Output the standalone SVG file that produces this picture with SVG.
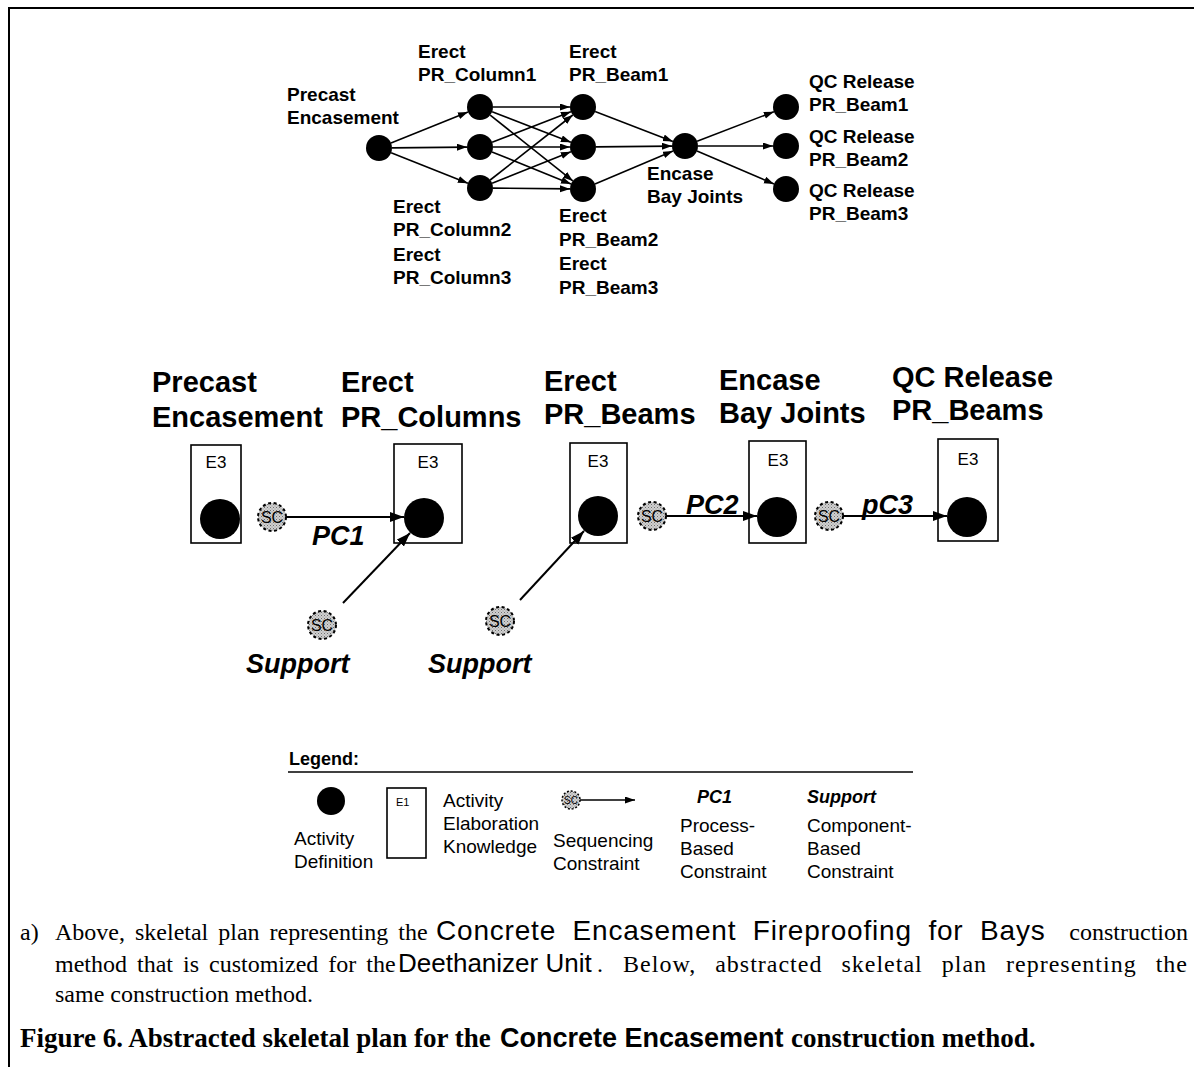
<svg xmlns="http://www.w3.org/2000/svg" width="1194" height="1067" viewBox="0 0 1194 1067">
<defs>
<marker id="ah" markerUnits="userSpaceOnUse" markerWidth="11" markerHeight="8" refX="10" refY="3.5" orient="auto"><path d="M0,0 L10,3.5 L0,7 z" fill="#000"/></marker>
<marker id="ahb" markerUnits="userSpaceOnUse" markerWidth="15" markerHeight="11" refX="14" refY="5" orient="auto"><path d="M0,0 L14,5 L0,10 z" fill="#000"/></marker>
<pattern id="stip" width="3" height="3" patternUnits="userSpaceOnUse"><rect width="3" height="3" fill="#d0d0d0"/><rect x="0" y="0" width="1" height="1" fill="#707070"/><rect x="1.5" y="1.5" width="1" height="1" fill="#909090"/></pattern>
</defs>
<style>
.t{font-family:"Liberation Sans",Arial,sans-serif;font-weight:bold;font-size:19px;fill:#000}
.h{font-family:"Liberation Sans",Arial,sans-serif;font-weight:bold;font-size:29px;fill:#000}
.bi{font-family:"Liberation Sans",Arial,sans-serif;font-weight:bold;font-style:italic;font-size:27px;fill:#000}
.r{font-family:"Liberation Sans",Arial,sans-serif;font-size:19px;fill:#000}
.e3{font-family:"Liberation Sans",Arial,sans-serif;font-size:17px;fill:#000}
.sc{font-family:"Liberation Sans",Arial,sans-serif;font-size:16px;fill:#000;text-anchor:middle}
.cap{font-family:"Liberation Serif","Times New Roman",serif;font-size:24px;fill:#000}
.capa{font-family:"Liberation Sans",Arial,sans-serif;font-size:26px;fill:#000}
.capb{font-family:"Liberation Serif","Times New Roman",serif;font-size:27px;font-weight:bold;fill:#000}
.capab{font-family:"Liberation Sans",Arial,sans-serif;font-size:27px;font-weight:bold;fill:#000}
.e{stroke:#000;stroke-width:1.6;fill:none;marker-end:url(#ah)}
.eb{stroke:#000;stroke-width:2;fill:none;marker-end:url(#ahb)}
.box{fill:#fff;stroke:#000;stroke-width:1.6}
.scc{fill:url(#stip);stroke:#000;stroke-width:2;stroke-dasharray:3 2.6}
</style>
<rect width="1194" height="1067" fill="#fff"/>
<g id="frame" stroke="#000" stroke-width="2" fill="none"><path d="M9,1067 L9,8 L1194,8"/></g>

<g id="top-precast"><circle cx="379" cy="148" r="13"/><text class="t" x="287" y="101">Precast</text><text class="t" x="287" y="124">Encasement</text></g>
<g id="top-col1"><circle cx="480" cy="107" r="13"/><text class="t" x="418" y="58">Erect</text><text class="t" x="418" y="81">PR_Column1</text></g>
<g id="top-col2"><circle cx="480" cy="147" r="13"/><text class="t" x="393" y="213">Erect</text><text class="t" x="393" y="236">PR_Column2</text></g>
<g id="top-col3"><circle cx="480" cy="188" r="13"/><text class="t" x="393" y="261">Erect</text><text class="t" x="393" y="284">PR_Column3</text></g>
<g id="top-beam1"><circle cx="583" cy="107" r="13"/><text class="t" x="569" y="58">Erect</text><text class="t" x="569" y="81">PR_Beam1</text></g>
<g id="top-beam2"><circle cx="583" cy="147" r="13"/><text class="t" x="559" y="222">Erect</text><text class="t" x="559" y="246">PR_Beam2</text></g>
<g id="top-beam3"><circle cx="583" cy="189" r="13"/><text class="t" x="559" y="270">Erect</text><text class="t" x="559" y="294">PR_Beam3</text></g>
<g id="top-encase"><circle cx="685" cy="146" r="13"/><text class="t" x="647" y="180">Encase</text><text class="t" x="647" y="203">Bay Joints</text></g>
<g id="top-qc1"><circle cx="786" cy="107" r="13"/><text class="t" x="809" y="88">QC Release</text><text class="t" x="809" y="111">PR_Beam1</text></g>
<g id="top-qc2"><circle cx="786" cy="146" r="13"/><text class="t" x="809" y="143">QC Release</text><text class="t" x="809" y="166">PR_Beam2</text></g>
<g id="top-qc3"><circle cx="786" cy="189" r="13"/><text class="t" x="809" y="197">QC Release</text><text class="t" x="809" y="220">PR_Beam3</text></g>

<g id="mid-precast"><text class="h" x="152" y="392">Precast</text><text class="h" x="152" y="427">Encasement</text><rect class="box" x="191" y="445" width="50" height="98"/><text class="e3" x="216" y="468" text-anchor="middle">E3</text><circle cx="220" cy="519" r="20"/></g>
<g id="mid-columns"><text class="h" x="341" y="392">Erect</text><text class="h" x="341" y="427">PR_Columns</text><rect class="box" x="394" y="444" width="68" height="99"/><text class="e3" x="428" y="468" text-anchor="middle">E3</text><circle cx="424" cy="518" r="20"/></g>
<g id="mid-beams"><text class="h" x="544" y="391">Erect</text><text class="h" x="544" y="424">PR_Beams</text><rect class="box" x="570" y="443" width="57" height="100"/><text class="e3" x="598" y="467" text-anchor="middle">E3</text><circle cx="598" cy="516" r="20"/></g>
<g id="mid-encase"><text class="h" x="719" y="390">Encase</text><text class="h" x="719" y="423">Bay Joints</text><rect class="box" x="749" y="441" width="57" height="102"/><text class="e3" x="778" y="466" text-anchor="middle">E3</text><circle cx="777" cy="517" r="20"/></g>
<g id="mid-qc"><text class="h" x="892" y="387">QC Release</text><text class="h" x="892" y="420">PR_Beams</text><rect class="box" x="938" y="439" width="60" height="102"/><text class="e3" x="968" y="465" text-anchor="middle">E3</text><circle cx="967" cy="517" r="20"/></g>

<g id="connectors">
<line class="e" x1="391" y1="143.1" x2="468" y2="111.9"/>
<line class="e" x1="392" y1="147.9" x2="467" y2="147.1"/>
<line class="e" x1="391.1" y1="152.8" x2="467.9" y2="183.2"/>
<line class="e" x1="493" y1="107" x2="570" y2="107"/>
<line class="e" x1="492.1" y1="111.7" x2="570.9" y2="142.3"/>
<line class="e" x1="490.2" y1="115.1" x2="572.8" y2="180.9"/>
<line class="e" x1="492.1" y1="142.3" x2="570.9" y2="111.7"/>
<line class="e" x1="493" y1="147" x2="570" y2="147"/>
<line class="e" x1="492" y1="151.9" x2="571" y2="184.1"/>
<line class="e" x1="490.2" y1="180" x2="572.8" y2="115"/>
<line class="e" x1="492.1" y1="183.2" x2="570.9" y2="151.8"/>
<line class="e" x1="493" y1="188.1" x2="570" y2="188.9"/>
<line class="e" x1="595.1" y1="111.6" x2="672.9" y2="141.4"/>
<line class="e" x1="596" y1="146.9" x2="672" y2="146.1"/>
<line class="e" x1="595" y1="184" x2="673" y2="151"/>
<line class="e" x1="697.1" y1="141.3" x2="773.9" y2="111.7"/>
<line class="e" x1="698" y1="146" x2="773" y2="146"/>
<line class="e" x1="697" y1="151.1" x2="774" y2="183.9"/>
<line class="eb" x1="286" y1="517" x2="404" y2="517"/>
<line class="eb" x1="666" y1="516" x2="757" y2="516"/>
<line class="eb" x1="843" y1="516" x2="947" y2="516"/>
<line class="eb" x1="343" y1="603" x2="410" y2="533"/>
<line class="eb" x1="520" y1="600" x2="584" y2="531"/>
</g>

<g id="sc1"><circle class="scc" cx="272" cy="517" r="14"/><text class="sc" x="272" y="523">SC</text></g>
<g id="sc2"><circle class="scc" cx="652" cy="516" r="14"/><text class="sc" x="652" y="522">SC</text></g>
<g id="sc3"><circle class="scc" cx="829" cy="516" r="14"/><text class="sc" x="829" y="522">SC</text></g>
<g id="sc4"><circle class="scc" cx="322" cy="625" r="14"/><text class="sc" x="322" y="631">SC</text></g>
<g id="sc5"><circle class="scc" cx="500" cy="621" r="14"/><text class="sc" x="500" y="627">SC</text></g>

<g id="labels">
<text class="bi" x="312" y="545">PC1</text>
<text class="bi" x="686" y="514">PC2</text>
<text class="bi" x="862" y="514">pC3</text>
<text class="bi" x="246" y="673">Support</text>
<text class="bi" x="428" y="673">Support</text>
</g>

<g id="legend">
<text class="t" x="289" y="765" style="font-size:18px">Legend:</text>
<line x1="288" y1="772" x2="913" y2="772" stroke="#000" stroke-width="1.5"/>
<circle cx="331" cy="801" r="14"/>
<text class="r" x="294" y="845">Activity</text><text class="r" x="294" y="868">Definition</text>
<rect class="box" x="387" y="788" width="39" height="70" stroke-width="1.3"/>
<text class="e3" x="396" y="806" style="font-size:11px">E1</text>
<text class="r" x="443" y="807">Activity</text><text class="r" x="443" y="830">Elaboration</text><text class="r" x="443" y="853">Knowledge</text>
<circle class="scc" cx="571" cy="800" r="9" style="stroke-width:1.5;stroke-dasharray:2 1.8"/>
<text class="sc" x="571" y="804" style="font-size:10px">SC</text>
<line class="e" x1="580" y1="800" x2="635" y2="800"/>
<text class="r" x="553" y="847">Sequencing</text><text class="r" x="553" y="870">Constraint</text>
<text class="bi" x="697" y="803" style="font-size:18px">PC1</text>
<text class="r" x="680" y="832">Process-</text><text class="r" x="680" y="855">Based</text><text class="r" x="680" y="878">Constraint</text>
<text class="bi" x="807" y="803" style="font-size:18px">Support</text>
<text class="r" x="807" y="832">Component-</text><text class="r" x="807" y="855">Based</text><text class="r" x="807" y="878">Constraint</text>
</g>

<g id="caption">
<text class="cap" x="20" y="940">a)</text>
<text class="cap" x="55" y="940" word-spacing="4">Above, skeletal plan representing the</text>
<text class="capa" x="436" y="940" style="font-size:28px" letter-spacing="0.8" word-spacing="8">Concrete Encasement Fireproofing for Bays</text>
<text class="cap" x="1188" y="940" text-anchor="end">construction</text>
<text class="cap" x="55" y="972" word-spacing="4">method that is customized for the</text>
<text class="capa" x="398" y="972">Deethanizer Unit</text>
<text class="cap" x="1188" y="972" text-anchor="end" letter-spacing="1" word-spacing="12">. Below, abstracted skeletal plan representing the</text>
<text class="cap" x="55" y="1002">same construction method.</text>
<text class="capb" x="20" y="1047">Figure 6. Abstracted skeletal plan for the</text>
<text class="capab" x="500" y="1047">Concrete Encasement</text>
<text class="capb" x="791" y="1047">construction method.</text>
</g>
</svg>
